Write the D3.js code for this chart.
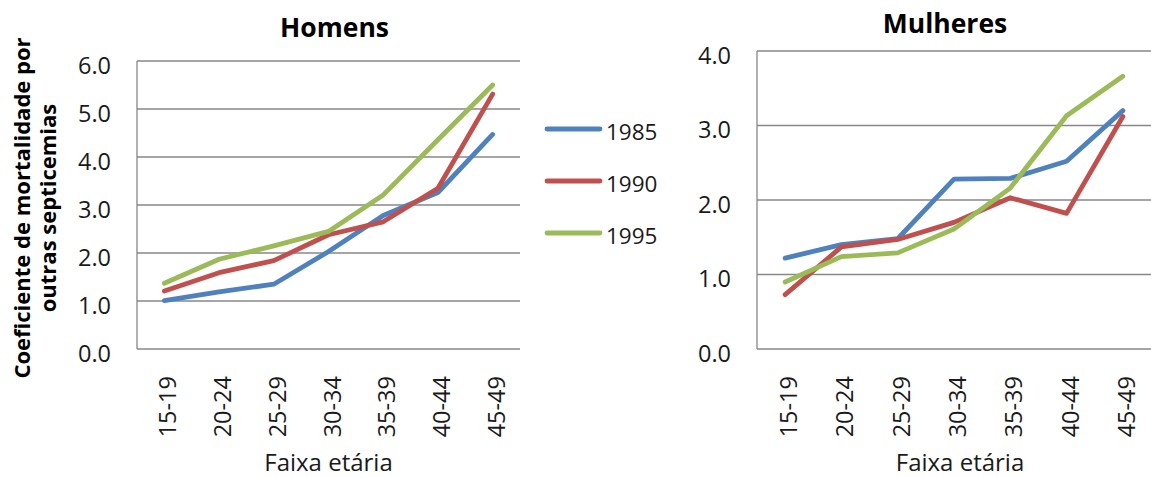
<!DOCTYPE html>
<html>
<head>
<meta charset="utf-8">
<script src="https://cdn.jsdelivr.net/npm/d3@7"></script>
<style>
  body { margin: 0; background: #fff; }
  svg { display: block; font-family: "Open Sans", sans-serif; }
</style>
</head>
<body>
<svg id="chart" width="1151" height="477"></svg>
<script>
// Age groups and mortality coefficients by year
const ageGroups = ["15-19", "20-24", "25-29", "30-34", "35-39", "40-44", "45-49"];
const years = ["1985", "1990", "1995"];
const colors = ["#4F81BD", "#C0504D", "#9BBB59"];

const men1985 = [1.01, 1.19, 1.35, 2.03, 2.78, 3.26, 4.47];
const men1990 = [1.21, 1.59, 1.84, 2.38, 2.65, 3.35, 5.31];
const men1995 = [1.37, 1.87, 2.15, 2.45, 3.21, 4.36, 5.50];

const women1985 = [1.22, 1.40, 1.48, 2.28, 2.29, 2.52, 3.20];
const women1990 = [0.73, 1.37, 1.47, 1.70, 2.03, 1.82, 3.12];
const women1995 = [0.90, 1.24, 1.29, 1.61, 2.16, 3.13, 3.66];

const menTicks = [0, 1, 2, 3, 4, 5, 6];
const womenTicks = [0, 1, 2, 3, 4];

const svg = d3.select("#chart");
const gridColor = "#878787";
const textColor = "#1a1a1a";

function panel(opts) {
  const { x0, x1, y0, y1, maxY, ticks, series, title, titleY } = opts;
  const g = svg.append("g");
  const x = d3.scaleBand().domain(ageGroups).range([x0, x1]);
  const y = d3.scaleLinear().domain([0, maxY]).range([y1, y0]);

  // horizontal gridlines
  g.selectAll("line.grid").data(ticks).join("line")
    .attr("x1", x0).attr("x2", x1)
    .attr("y1", d => y(d)).attr("y2", d => y(d))
    .attr("stroke", gridColor).attr("stroke-width", 1.3);

  // vertical axis line
  g.append("line").attr("x1", x0).attr("x2", x0).attr("y1", y0).attr("y2", y1)
    .attr("stroke", gridColor).attr("stroke-width", 1.3);

  // y tick labels
  const yAxis = d3.axisLeft(y).tickValues(ticks).tickFormat(d3.format(".1f")).tickSize(0).tickPadding(26);
  const ya = g.append("g").attr("transform", `translate(${x0},0)`).call(yAxis);
  ya.select(".domain").remove();
  ya.selectAll("text").attr("font-size", 23.5).attr("fill", textColor)
    .attr("font-family", "'Open Sans', sans-serif").attr("dy", null).attr("y", 12);

  // x tick labels, rotated
  const xAxis = d3.axisBottom(x).tickSize(0).tickPadding(0);
  const xa = g.append("g").attr("transform", `translate(0,${y1})`).call(xAxis);
  xa.select(".domain").remove();
  xa.selectAll("text")
    .attr("font-size", 23.5).attr("fill", textColor).attr("font-family", "'Open Sans', sans-serif")
    .attr("text-anchor", "end").attr("dy", null).attr("y", 0)
    .attr("transform", "translate(12,27) rotate(-90)");

  // series lines
  const line = d3.line()
    .x((d, i) => x(ageGroups[i]) + x.bandwidth() / 2)
    .y(d => y(d));
  series.forEach((s, i) => {
    g.append("path").datum(s)
      .attr("d", line).attr("fill", "none")
      .attr("stroke", colors[i]).attr("stroke-width", 4.8)
      .attr("stroke-linejoin", "round").attr("stroke-linecap", "round");
  });

  // title
  g.append("text").attr("x", (x0 + x1) / 2 + opts.titleShift).attr("y", titleY)
    .attr("text-anchor", "middle").attr("font-weight", "bold").attr("font-size", 26.5)
    .attr("fill", "#000").text(title);

  // x axis title
  g.append("text").attr("x", (x0 + x1) / 2 + opts.xTitleShift).attr("y", 471)
    .attr("text-anchor", "middle").attr("font-size", 24).attr("fill", textColor)
    .text("Faixa etária");
}

panel({
  x0: 137, x1: 520, y0: 61, y1: 349, maxY: 6, ticks: menTicks,
  series: [men1985, men1990, men1995], title: "Homens", titleY: 37,
  titleShift: 6, xTitleShift: 0
});

panel({
  x0: 757, x1: 1151, y0: 51, y1: 349, maxY: 4, ticks: womenTicks,
  series: [women1985, women1990, women1995], title: "Mulheres", titleY: 33,
  titleShift: -9, xTitleShift: 6
});

// y axis title for the left panel
const yTitle = svg.append("text")
  .attr("transform", "translate(0,208) rotate(-90)")
  .attr("text-anchor", "middle").attr("font-weight", "bold").attr("font-size", 22)
  .attr("fill", "#000");
yTitle.append("tspan").attr("x", 0).attr("y", 30).text("Coeficiente de mortalidade por");
yTitle.append("tspan").attr("x", 0).attr("y", 56).text("outras septicemias");

// legend
const legend = svg.append("g");
years.forEach((yr, i) => {
  const ly = 129 + i * 52;
  legend.append("line").attr("x1", 547).attr("x2", 600).attr("y1", ly).attr("y2", ly)
    .attr("stroke", colors[i]).attr("stroke-width", 4.8).attr("stroke-linecap", "round");
  legend.append("text").attr("x", 606).attr("y", ly + 11)
    .attr("font-size", 22.5).attr("fill", textColor).text(yr);
});
</script>
</body>
</html>
